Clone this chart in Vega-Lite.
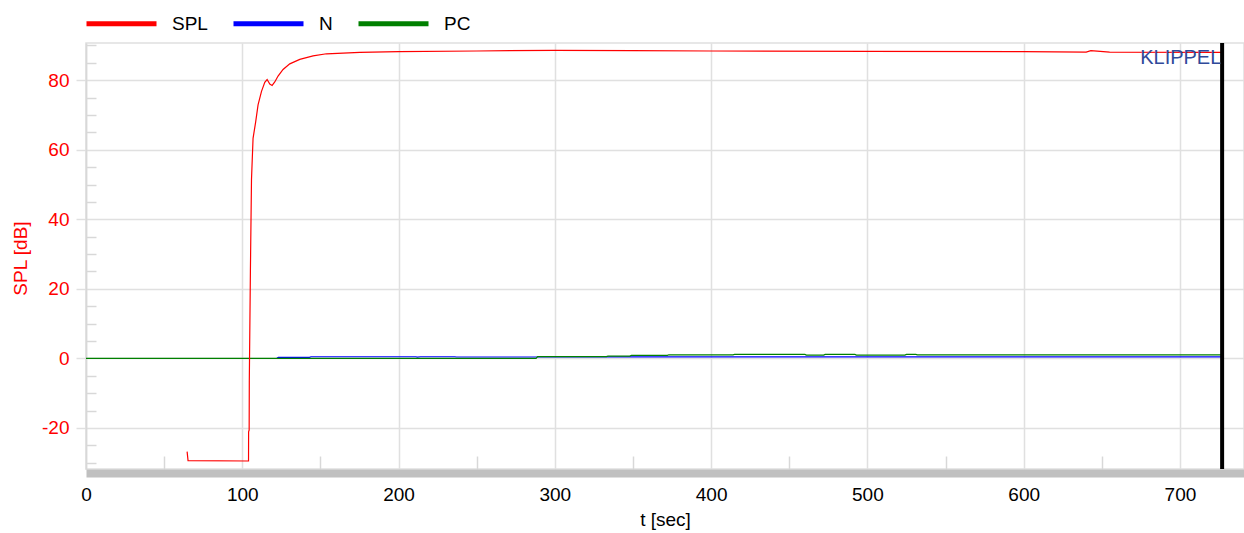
{
 "$schema": "https://vega.github.io/schema/vega-lite/v6.json",
 "width": 1158,
 "height": 426,
 "autosize": {"type": "none"},
 "padding": {"left": 86, "top": 43, "right": 0, "bottom": 64},
 "background": "white",
 "config": {
  "font": "Liberation Sans",
  "view": {"stroke": "#e0e0e0", "strokeWidth": 1.5}
 },
 "datasets": {
  "series": [
   {"t": 122, "v": 0, "s": "N"}, {"t": 123, "v": 0.3, "s": "N"}, {"t": 143, "v": 0.3, "s": "N"},
   {"t": 144, "v": 0.48, "s": "N"}, {"t": 211, "v": 0.48, "s": "N"}, {"t": 212, "v": 0.4, "s": "N"}, {"t": 214, "v": 0.48, "s": "N"},
   {"t": 236, "v": 0.48, "s": "N"}, {"t": 237, "v": 0.4, "s": "N"}, {"t": 330, "v": 0.4, "s": "N"}, {"t": 331, "v": 0.45, "s": "N"},
   {"t": 727, "v": 0.45, "s": "N"},
   {"t": 0, "v": 0, "s": "PC"}, {"t": 288, "v": 0, "s": "PC"}, {"t": 289, "v": 0.5, "s": "PC"}, {"t": 333, "v": 0.5, "s": "PC"},
   {"t": 334, "v": 0.66, "s": "PC"}, {"t": 348, "v": 0.66, "s": "PC"}, {"t": 349, "v": 0.86, "s": "PC"}, {"t": 372, "v": 0.86, "s": "PC"},
   {"t": 373, "v": 1.04, "s": "PC"}, {"t": 414, "v": 1.04, "s": "PC"}, {"t": 415, "v": 1.14, "s": "PC"}, {"t": 460, "v": 1.14, "s": "PC"},
   {"t": 461, "v": 0.95, "s": "PC"}, {"t": 472, "v": 0.95, "s": "PC"}, {"t": 473, "v": 1.14, "s": "PC"}, {"t": 492, "v": 1.14, "s": "PC"},
   {"t": 493, "v": 0.95, "s": "PC"}, {"t": 524, "v": 0.95, "s": "PC"}, {"t": 525, "v": 1.14, "s": "PC"}, {"t": 531, "v": 1.14, "s": "PC"},
   {"t": 532, "v": 1.0, "s": "PC"}, {"t": 727, "v": 1.0, "s": "PC"},
   {"t": 64.7, "v": -26.8, "s": "SPL"}, {"t": 65.3, "v": -29.4, "s": "SPL"}, {"t": 104.0, "v": -29.5, "s": "SPL"}, {"t": 104.05, "v": -21.1, "s": "SPL"},
   {"t": 104.4, "v": -20.6, "s": "SPL"}, {"t": 104.5, "v": -6.3, "s": "SPL"}, {"t": 105.2, "v": 25, "s": "SPL"}, {"t": 105.9, "v": 51.5, "s": "SPL"},
   {"t": 106.9, "v": 63.3, "s": "SPL"}, {"t": 108.6, "v": 68.1, "s": "SPL"}, {"t": 110.1, "v": 72.9, "s": "SPL"}, {"t": 112.3, "v": 76.8, "s": "SPL"},
   {"t": 114.4, "v": 79.4, "s": "SPL"}, {"t": 115.9, "v": 80.2, "s": "SPL"}, {"t": 117.6, "v": 78.9, "s": "SPL"}, {"t": 119.1, "v": 78.5, "s": "SPL"},
   {"t": 120.8, "v": 79.5, "s": "SPL"}, {"t": 122.9, "v": 81.2, "s": "SPL"}, {"t": 126.1, "v": 83.1, "s": "SPL"}, {"t": 130.4, "v": 84.7, "s": "SPL"},
   {"t": 136.8, "v": 86.0, "s": "SPL"}, {"t": 145.3, "v": 87.0, "s": "SPL"}, {"t": 153.9, "v": 87.6, "s": "SPL"}, {"t": 164.5, "v": 87.8, "s": "SPL"},
   {"t": 175.2, "v": 88.0, "s": "SPL"}, {"t": 200, "v": 88.2, "s": "SPL"}, {"t": 250, "v": 88.4, "s": "SPL"}, {"t": 300, "v": 88.6, "s": "SPL"},
   {"t": 350, "v": 88.5, "s": "SPL"}, {"t": 400, "v": 88.4, "s": "SPL"}, {"t": 500, "v": 88.3, "s": "SPL"}, {"t": 600, "v": 88.2, "s": "SPL"},
   {"t": 640, "v": 88.1, "s": "SPL"}, {"t": 643, "v": 88.5, "s": "SPL"}, {"t": 655, "v": 88.1, "s": "SPL"}, {"t": 727, "v": 88.0, "s": "SPL"}
  ],
  "cursor": [{"t": 727}],
  "brand": [{"t": 726.5, "v": 86.3, "label": "KLIPPEL"}]
 },
 "layer": [
  {
   "data": {"name": "series"},
   "mark": {"type": "point", "opacity": 0, "size": 0},
   "encoding": {
    "x": {"field": "t", "type": "quantitative", "scale": {"domain": [0, 741], "nice": false, "zero": false},
     "axis": {"orient": "bottom", "values": [50, 150, 250, 350, 450, 550, 650], "labels": false, "domain": false, "grid": false, "ticks": true, "tickSize": -13, "tickColor": "#d8d8d8", "tickWidth": 1.5, "title": null}},
    "y": {"field": "v", "type": "quantitative", "scale": {"domain": [-31.8, 90.7], "nice": false, "zero": false},
     "axis": {"orient": "left", "values": [-30, -25, -15, -10, -5, 5, 10, 15, 25, 30, 35, 45, 50, 55, 65, 70, 75, 85, 90], "labels": false, "domain": false, "grid": false, "ticks": true, "tickSize": -10, "tickColor": "#d8d8d8", "tickWidth": 1.5, "title": null}}
   }
  },
  {
   "data": {"name": "series"},
   "mark": {"type": "line", "strokeWidth": 1.2, "clip": true},
   "encoding": {
    "x": {"field": "t", "type": "quantitative", "scale": {"domain": [0, 741], "nice": false, "zero": false},
     "axis": {"orient": "bottom", "values": [0, 100, 200, 300, 400, 500, 600, 700], "grid": true, "gridColor": "#e0e0e0", "gridWidth": 1.5,
      "domain": true, "domainColor": "#c0c0c0", "domainWidth": 8, "offset": 4, "ticks": false, "tickSize": 0,
      "labelFontSize": 19, "labelColor": "black", "labelPadding": 12, "labelFlush": false,
      "title": "t [sec]", "titleFontSize": 19, "titleFontWeight": "normal", "titleColor": "black", "titlePadding": 6}},
    "y": {"field": "v", "type": "quantitative", "scale": {"domain": [-31.8, 90.7], "nice": false, "zero": false},
     "axis": {"orient": "left", "values": [-20, 0, 20, 40, 60, 80], "grid": true, "gridColor": "#e0e0e0", "gridWidth": 1.5,
      "domain": true, "domainColor": "#d8d8d8", "domainWidth": 1.5, "ticks": true, "tickSize": 10, "tickColor": "#e0e0e0", "tickWidth": 1.5,
      "labelFontSize": 19, "labelColor": "#ff0000", "labelPadding": 7, "labelFlush": false, "labelExpr": "'' + datum.value",
      "title": "SPL [dB]", "titleColor": "#ff0000", "titleFontSize": 19, "titleFontWeight": "normal", "titleX": -56, "titleY": 215}},
    "color": {"field": "s", "type": "nominal",
     "scale": {"domain": ["SPL", "N", "PC"], "range": ["#ff0000", "#0000ff", "#008000"]},
     "legend": {"orient": "none", "legendX": -2, "legendY": -57, "direction": "horizontal", "symbolType": "stroke", "symbolSize": 4900,
      "symbolStrokeWidth": 5, "labelFontSize": 19, "labelColor": "black", "labelOffset": 13, "columnPadding": 15, "title": null, "padding": 0}}
   }
  },
  {
   "data": {"name": "cursor"},
   "mark": {"type": "rule", "color": "black", "strokeWidth": 4},
   "encoding": {"x": {"field": "t", "type": "quantitative", "axis": null}}
  },
  {
   "data": {"name": "brand"},
   "mark": {"type": "text", "align": "right", "baseline": "middle", "fontSize": 20, "color": "#304a9a", "font": "Liberation Sans"},
   "encoding": {
    "x": {"field": "t", "type": "quantitative", "axis": null},
    "y": {"field": "v", "type": "quantitative", "axis": null},
    "text": {"field": "label"}
   }
  }
 ],
 "resolve": {"axis": {"x": "independent", "y": "independent"}}
}
